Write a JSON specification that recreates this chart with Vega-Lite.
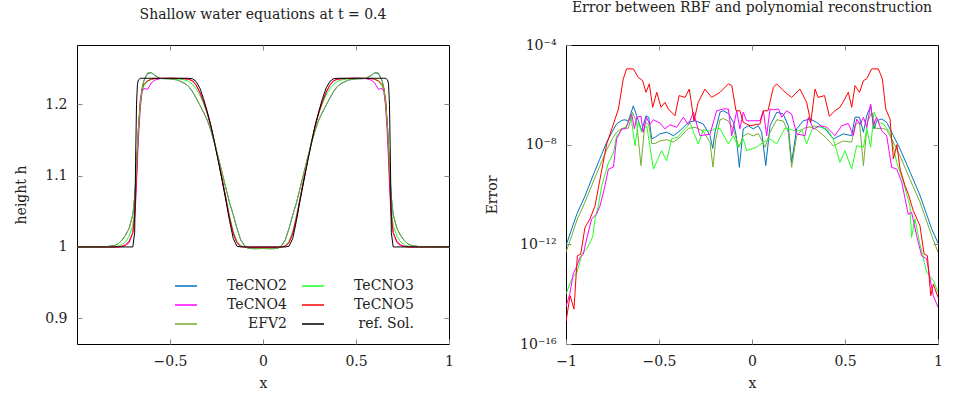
{
"$schema": "https://vega.github.io/schema/vega-lite/v6.json",
"padding": {"left": 14, "top": 0, "right": 0, "bottom": 0},
"spacing": 31,
"config": {
  "font": "DejaVu Serif",
  "view": {"stroke": "#000", "strokeWidth": 1},
  "axis": {"domain": false, "grid": false, "labelFlush": false, "tickSize": -5, "tickColor": "#888", "labelFont": "DejaVu Serif", "labelFontSize": 14, "labelColor": "#222", "titleFont": "DejaVu Serif", "titleFontSize": 14, "titleFontWeight": "normal", "titleColor": "#222", "labelPadding": 15},
  "title": {"font": "DejaVu Serif", "fontSize": 14, "fontWeight": "normal", "color": "#222", "offset": 23},
  "legend": {"labelFont": "DejaVu Serif", "labelFontSize": 14, "labelColor": "#222"}
},
"resolve": {"scale": {"color": "independent"}},
"hconcat": [
{
  "title": "Shallow water equations at t = 0.4",
  "width": 372, "height": 299,
  "data": {"values": [
    {"x":-1.0,"ref":1,"TeCNO5":1,"TeCNO4":1,"TeCNO3":1,"TeCNO2":1,"EFV2":1},
    {"x":-0.9,"ref":1,"TeCNO5":1,"TeCNO4":1,"TeCNO3":1,"TeCNO2":1,"EFV2":1},
    {"x":-0.84,"ref":1,"TeCNO5":1,"TeCNO4":1,"TeCNO3":1,"TeCNO2":1.0005,"EFV2":1.0005},
    {"x":-0.8,"ref":1,"TeCNO5":1,"TeCNO4":1,"TeCNO3":1.0005,"TeCNO2":1.002,"EFV2":1.002},
    {"x":-0.78,"ref":1,"TeCNO5":1,"TeCNO4":1.0003,"TeCNO3":1.001,"TeCNO2":1.004,"EFV2":1.004},
    {"x":-0.76,"ref":1,"TeCNO5":1.0005,"TeCNO4":1.001,"TeCNO3":1.003,"TeCNO2":1.009,"EFV2":1.009},
    {"x":-0.74,"ref":1,"TeCNO5":1.002,"TeCNO4":1.003,"TeCNO3":1.007,"TeCNO2":1.016,"EFV2":1.016},
    {"x":-0.72,"ref":1,"TeCNO5":1.006,"TeCNO4":1.008,"TeCNO3":1.015,"TeCNO2":1.026,"EFV2":1.026},
    {"x":-0.70,"ref":1,"TeCNO5":1.02,"TeCNO4":1.02,"TeCNO3":1.03,"TeCNO2":1.045,"EFV2":1.045},
    {"x":-0.69,"ref":1.02,"TeCNO5":1.045,"TeCNO4":1.04,"TeCNO3":1.05,"TeCNO2":1.07,"EFV2":1.07},
    {"x":-0.685,"ref":1.12,"TeCNO5":1.07,"TeCNO4":1.06,"TeCNO3":1.07,"TeCNO2":1.09,"EFV2":1.09},
    {"x":-0.68,"ref":1.2,"TeCNO5":1.10,"TeCNO4":1.09,"TeCNO3":1.10,"TeCNO2":1.115,"EFV2":1.115},
    {"x":-0.675,"ref":1.228,"TeCNO5":1.135,"TeCNO4":1.12,"TeCNO3":1.13,"TeCNO2":1.14,"EFV2":1.14},
    {"x":-0.67,"ref":1.234,"TeCNO5":1.165,"TeCNO4":1.15,"TeCNO3":1.16,"TeCNO2":1.165,"EFV2":1.165},
    {"x":-0.66,"ref":1.2362,"TeCNO5":1.205,"TeCNO4":1.195,"TeCNO3":1.20,"TeCNO2":1.20,"EFV2":1.20},
    {"x":-0.65,"ref":1.2364,"TeCNO5":1.222,"TeCNO4":1.218,"TeCNO3":1.218,"TeCNO2":1.222,"EFV2":1.222},
    {"x":-0.64,"ref":1.2364,"TeCNO5":1.228,"TeCNO4":1.222,"TeCNO3":1.226,"TeCNO2":1.233,"EFV2":1.234},
    {"x":-0.62,"ref":1.2364,"TeCNO5":1.233,"TeCNO4":1.221,"TeCNO3":1.232,"TeCNO2":1.243,"EFV2":1.244},
    {"x":-0.60,"ref":1.2364,"TeCNO5":1.235,"TeCNO4":1.23,"TeCNO3":1.235,"TeCNO2":1.244,"EFV2":1.2445},
    {"x":-0.58,"ref":1.2364,"TeCNO5":1.236,"TeCNO4":1.234,"TeCNO3":1.236,"TeCNO2":1.240,"EFV2":1.240},
    {"x":-0.55,"ref":1.2364,"TeCNO5":1.2364,"TeCNO4":1.236,"TeCNO3":1.236,"TeCNO2":1.236,"EFV2":1.236},
    {"x":-0.50,"ref":1.2364,"TeCNO5":1.2364,"TeCNO4":1.2364,"TeCNO3":1.2362,"TeCNO2":1.2355,"EFV2":1.2355},
    {"x":-0.46,"ref":1.2364,"TeCNO5":1.2362,"TeCNO4":1.2362,"TeCNO3":1.2355,"TeCNO2":1.234,"EFV2":1.234},
    {"x":-0.42,"ref":1.2364,"TeCNO5":1.2358,"TeCNO4":1.2356,"TeCNO3":1.234,"TeCNO2":1.229,"EFV2":1.229},
    {"x":-0.40,"ref":1.2363,"TeCNO5":1.235,"TeCNO4":1.235,"TeCNO3":1.232,"TeCNO2":1.225,"EFV2":1.225},
    {"x":-0.38,"ref":1.2358,"TeCNO5":1.233,"TeCNO4":1.233,"TeCNO3":1.228,"TeCNO2":1.218,"EFV2":1.218},
    {"x":-0.36,"ref":1.232,"TeCNO5":1.227,"TeCNO4":1.227,"TeCNO3":1.222,"TeCNO2":1.209,"EFV2":1.209},
    {"x":-0.34,"ref":1.223,"TeCNO5":1.217,"TeCNO4":1.217,"TeCNO3":1.213,"TeCNO2":1.199,"EFV2":1.199},
    {"x":-0.32,"ref":1.208,"TeCNO5":1.204,"TeCNO4":1.204,"TeCNO3":1.201,"TeCNO2":1.189,"EFV2":1.189},
    {"x":-0.30,"ref":1.190,"TeCNO5":1.188,"TeCNO4":1.188,"TeCNO3":1.187,"TeCNO2":1.178,"EFV2":1.178},
    {"x":-0.28,"ref":1.170,"TeCNO5":1.169,"TeCNO4":1.169,"TeCNO3":1.169,"TeCNO2":1.163,"EFV2":1.163},
    {"x":-0.26,"ref":1.145,"TeCNO5":1.146,"TeCNO4":1.146,"TeCNO3":1.147,"TeCNO2":1.145,"EFV2":1.145},
    {"x":-0.24,"ref":1.120,"TeCNO5":1.121,"TeCNO4":1.121,"TeCNO3":1.123,"TeCNO2":1.125,"EFV2":1.125},
    {"x":-0.22,"ref":1.093,"TeCNO5":1.095,"TeCNO4":1.095,"TeCNO3":1.097,"TeCNO2":1.104,"EFV2":1.104},
    {"x":-0.20,"ref":1.066,"TeCNO5":1.068,"TeCNO4":1.068,"TeCNO3":1.070,"TeCNO2":1.083,"EFV2":1.083},
    {"x":-0.18,"ref":1.037,"TeCNO5":1.041,"TeCNO4":1.041,"TeCNO3":1.044,"TeCNO2":1.062,"EFV2":1.062},
    {"x":-0.16,"ref":1.012,"TeCNO5":1.019,"TeCNO4":1.019,"TeCNO3":1.022,"TeCNO2":1.045,"EFV2":1.045},
    {"x":-0.14,"ref":1.001,"TeCNO5":1.006,"TeCNO4":1.006,"TeCNO3":1.008,"TeCNO2":1.026,"EFV2":1.026},
    {"x":-0.12,"ref":1.0,"TeCNO5":1.001,"TeCNO4":1.001,"TeCNO3":1.002,"TeCNO2":1.010,"EFV2":1.010},
    {"x":-0.10,"ref":1.0,"TeCNO5":1.0,"TeCNO4":1.0,"TeCNO3":1.0,"TeCNO2":1.002,"EFV2":1.002},
    {"x":-0.08,"ref":1.0,"TeCNO5":0.9995,"TeCNO4":0.9995,"TeCNO3":0.9992,"TeCNO2":0.998,"EFV2":0.998},
    {"x":-0.05,"ref":1.0,"TeCNO5":0.9995,"TeCNO4":0.9995,"TeCNO3":0.999,"TeCNO2":0.9975,"EFV2":0.9975},
    {"x":0,"ref":1.0,"TeCNO5":0.9995,"TeCNO4":0.9995,"TeCNO3":0.999,"TeCNO2":0.9978,"EFV2":0.9978},
    {"x":0.05,"ref":1.0,"TeCNO5":0.9995,"TeCNO4":0.9995,"TeCNO3":0.999,"TeCNO2":0.9975,"EFV2":0.9975},
    {"x":0.08,"ref":1.0,"TeCNO5":0.9995,"TeCNO4":0.9995,"TeCNO3":0.9992,"TeCNO2":0.998,"EFV2":0.998},
    {"x":0.10,"ref":1.0,"TeCNO5":1.0,"TeCNO4":1.0,"TeCNO3":1.0,"TeCNO2":1.002,"EFV2":1.002},
    {"x":0.12,"ref":1.0,"TeCNO5":1.001,"TeCNO4":1.001,"TeCNO3":1.002,"TeCNO2":1.010,"EFV2":1.010},
    {"x":0.14,"ref":1.001,"TeCNO5":1.006,"TeCNO4":1.006,"TeCNO3":1.008,"TeCNO2":1.026,"EFV2":1.026},
    {"x":0.16,"ref":1.012,"TeCNO5":1.019,"TeCNO4":1.019,"TeCNO3":1.022,"TeCNO2":1.045,"EFV2":1.045},
    {"x":0.18,"ref":1.037,"TeCNO5":1.041,"TeCNO4":1.041,"TeCNO3":1.044,"TeCNO2":1.062,"EFV2":1.062},
    {"x":0.20,"ref":1.066,"TeCNO5":1.068,"TeCNO4":1.068,"TeCNO3":1.070,"TeCNO2":1.083,"EFV2":1.083},
    {"x":0.22,"ref":1.093,"TeCNO5":1.095,"TeCNO4":1.095,"TeCNO3":1.097,"TeCNO2":1.104,"EFV2":1.104},
    {"x":0.24,"ref":1.120,"TeCNO5":1.121,"TeCNO4":1.121,"TeCNO3":1.123,"TeCNO2":1.125,"EFV2":1.125},
    {"x":0.26,"ref":1.145,"TeCNO5":1.146,"TeCNO4":1.146,"TeCNO3":1.147,"TeCNO2":1.145,"EFV2":1.145},
    {"x":0.28,"ref":1.170,"TeCNO5":1.169,"TeCNO4":1.169,"TeCNO3":1.169,"TeCNO2":1.163,"EFV2":1.163},
    {"x":0.30,"ref":1.190,"TeCNO5":1.188,"TeCNO4":1.188,"TeCNO3":1.187,"TeCNO2":1.178,"EFV2":1.178},
    {"x":0.32,"ref":1.208,"TeCNO5":1.204,"TeCNO4":1.204,"TeCNO3":1.201,"TeCNO2":1.189,"EFV2":1.189},
    {"x":0.34,"ref":1.223,"TeCNO5":1.217,"TeCNO4":1.217,"TeCNO3":1.213,"TeCNO2":1.199,"EFV2":1.199},
    {"x":0.36,"ref":1.232,"TeCNO5":1.227,"TeCNO4":1.227,"TeCNO3":1.222,"TeCNO2":1.209,"EFV2":1.209},
    {"x":0.38,"ref":1.2358,"TeCNO5":1.233,"TeCNO4":1.233,"TeCNO3":1.228,"TeCNO2":1.218,"EFV2":1.218},
    {"x":0.40,"ref":1.2363,"TeCNO5":1.235,"TeCNO4":1.235,"TeCNO3":1.232,"TeCNO2":1.225,"EFV2":1.225},
    {"x":0.42,"ref":1.2364,"TeCNO5":1.2358,"TeCNO4":1.2356,"TeCNO3":1.234,"TeCNO2":1.229,"EFV2":1.229},
    {"x":0.46,"ref":1.2364,"TeCNO5":1.2362,"TeCNO4":1.2362,"TeCNO3":1.2355,"TeCNO2":1.234,"EFV2":1.234},
    {"x":0.50,"ref":1.2364,"TeCNO5":1.2364,"TeCNO4":1.2364,"TeCNO3":1.2362,"TeCNO2":1.2355,"EFV2":1.2355},
    {"x":0.55,"ref":1.2364,"TeCNO5":1.2364,"TeCNO4":1.236,"TeCNO3":1.236,"TeCNO2":1.236,"EFV2":1.236},
    {"x":0.58,"ref":1.2364,"TeCNO5":1.236,"TeCNO4":1.234,"TeCNO3":1.236,"TeCNO2":1.240,"EFV2":1.240},
    {"x":0.60,"ref":1.2364,"TeCNO5":1.235,"TeCNO4":1.23,"TeCNO3":1.235,"TeCNO2":1.244,"EFV2":1.2445},
    {"x":0.62,"ref":1.2364,"TeCNO5":1.233,"TeCNO4":1.221,"TeCNO3":1.232,"TeCNO2":1.243,"EFV2":1.244},
    {"x":0.64,"ref":1.2364,"TeCNO5":1.228,"TeCNO4":1.222,"TeCNO3":1.226,"TeCNO2":1.233,"EFV2":1.234},
    {"x":0.65,"ref":1.2364,"TeCNO5":1.222,"TeCNO4":1.218,"TeCNO3":1.218,"TeCNO2":1.222,"EFV2":1.222},
    {"x":0.66,"ref":1.2362,"TeCNO5":1.205,"TeCNO4":1.195,"TeCNO3":1.20,"TeCNO2":1.20,"EFV2":1.20},
    {"x":0.67,"ref":1.234,"TeCNO5":1.165,"TeCNO4":1.15,"TeCNO3":1.16,"TeCNO2":1.165,"EFV2":1.165},
    {"x":0.675,"ref":1.228,"TeCNO5":1.135,"TeCNO4":1.12,"TeCNO3":1.13,"TeCNO2":1.14,"EFV2":1.14},
    {"x":0.68,"ref":1.2,"TeCNO5":1.10,"TeCNO4":1.09,"TeCNO3":1.10,"TeCNO2":1.115,"EFV2":1.115},
    {"x":0.685,"ref":1.12,"TeCNO5":1.07,"TeCNO4":1.06,"TeCNO3":1.07,"TeCNO2":1.09,"EFV2":1.09},
    {"x":0.69,"ref":1.02,"TeCNO5":1.045,"TeCNO4":1.04,"TeCNO3":1.05,"TeCNO2":1.07,"EFV2":1.07},
    {"x":0.70,"ref":1,"TeCNO5":1.02,"TeCNO4":1.02,"TeCNO3":1.03,"TeCNO2":1.045,"EFV2":1.045},
    {"x":0.72,"ref":1,"TeCNO5":1.006,"TeCNO4":1.008,"TeCNO3":1.015,"TeCNO2":1.026,"EFV2":1.026},
    {"x":0.74,"ref":1,"TeCNO5":1.002,"TeCNO4":1.003,"TeCNO3":1.007,"TeCNO2":1.016,"EFV2":1.016},
    {"x":0.76,"ref":1,"TeCNO5":1.0005,"TeCNO4":1.001,"TeCNO3":1.003,"TeCNO2":1.009,"EFV2":1.009},
    {"x":0.78,"ref":1,"TeCNO5":1,"TeCNO4":1.0003,"TeCNO3":1.001,"TeCNO2":1.004,"EFV2":1.004},
    {"x":0.8,"ref":1,"TeCNO5":1,"TeCNO4":1,"TeCNO3":1.0005,"TeCNO2":1.002,"EFV2":1.002},
    {"x":0.84,"ref":1,"TeCNO5":1,"TeCNO4":1,"TeCNO3":1,"TeCNO2":1.0005,"EFV2":1.0005},
    {"x":0.9,"ref":1,"TeCNO5":1,"TeCNO4":1,"TeCNO3":1,"TeCNO2":1,"EFV2":1},
    {"x":1.0,"ref":1,"TeCNO5":1,"TeCNO4":1,"TeCNO3":1,"TeCNO2":1,"EFV2":1}
  ]},
  "transform": [{"fold": ["TeCNO2","TeCNO3","TeCNO4","TeCNO5","EFV2","ref"], "as": ["s","h"]}],
  "layer": [
    {
      "mark": {"type": "line", "strokeWidth": 1, "clip": true},
      "encoding": {
        "x": {"field": "x", "type": "quantitative", "scale": {"domain": [-1, 1], "nice": false}, "axis": {"values": [-0.5, 0, 0.5, 1], "format": "~g", "title": "x", "titlePadding": 8}},
        "y": {"field": "h", "type": "quantitative", "scale": {"domain": [0.864, 1.283], "nice": false, "zero": false}, "axis": {"values": [0.9, 1, 1.1, 1.2], "format": "~g", "title": "height h", "titlePadding": 16}},
        "color": {"field": "s", "type": "nominal",
          "scale": {"domain": ["TeCNO2","TeCNO4","EFV2","TeCNO3","TeCNO5","ref"], "range": ["#0072BD","#FF00FF","#77AC30","#22FF22","#FF0000","#000000"]},
          "legend": {"orient": "none", "legendX": 97, "legendY": 229, "columns": 2, "title": null, "padding": 0, "symbolType": "stroke", "symbolSize": 484, "symbolStrokeWidth": 1.5, "labelAlign": "right", "labelOffset": 89, "columnPadding": 12, "rowPadding": -7, "labelExpr": "datum.label == 'ref' ? 'ref. Sol.' : datum.label"}
        }
      }
    },
    {
      "mark": {"type": "line", "opacity": 0},
      "encoding": {
        "x": {"field": "x", "type": "quantitative", "scale": {"domain": [-1, 1], "nice": false}, "axis": {"orient": "top", "values": [-0.5, 0, 0.5], "labels": false, "title": null}},
        "y": {"field": "h", "type": "quantitative", "scale": {"domain": [0.864, 1.283], "nice": false, "zero": false}, "axis": {"orient": "right", "values": [0.9, 1, 1.1, 1.2], "labels": false, "title": null}},
        "detail": {"field": "s"}
      }
    }
  ],
  "resolve": {"axis": {"x": "independent", "y": "independent"}}
},
{
  "title": "Error between RBF and polynomial reconstruction",
  "width": 372, "height": 299,
  "data": {"values": [
    {"s":"TeCNO2","x":-1.0,"e":8.9e-13},{"s":"TeCNO2","x":-0.969,"e":4.2e-12},{"s":"TeCNO2","x":-0.94,"e":1.78e-11},{"s":"TeCNO2","x":-0.9,"e":7.9e-11},{"s":"TeCNO2","x":-0.862,"e":4.2e-10},{"s":"TeCNO2","x":-0.82,"e":2.5e-9},{"s":"TeCNO2","x":-0.781,"e":1.26e-8},{"s":"TeCNO2","x":-0.75,"e":3.5e-8},{"s":"TeCNO2","x":-0.728,"e":6.8e-8},{"s":"TeCNO2","x":-0.7,"e":9.5e-8},{"s":"TeCNO2","x":-0.683,"e":1e-7},{"s":"TeCNO2","x":-0.665,"e":8.9e-8},{"s":"TeCNO2","x":-0.638,"e":3.6e-7},{"s":"TeCNO2","x":-0.62,"e":1.45e-7},{"s":"TeCNO2","x":-0.593,"e":3.6e-8},{"s":"TeCNO2","x":-0.57,"e":1.45e-7},{"s":"TeCNO2","x":-0.555,"e":1.26e-7},{"s":"TeCNO2","x":-0.539,"e":1.7e-8},{"s":"TeCNO2","x":-0.52,"e":2.0e-8},{"s":"TeCNO2","x":-0.495,"e":2.7e-8},{"s":"TeCNO2","x":-0.459,"e":3.16e-8},{"s":"TeCNO2","x":-0.423,"e":2.3e-8},{"s":"TeCNO2","x":-0.387,"e":3.6e-8},{"s":"TeCNO2","x":-0.342,"e":7.9e-8},{"s":"TeCNO2","x":-0.306,"e":9.1e-8},{"s":"TeCNO2","x":-0.262,"e":6.8e-8},{"s":"TeCNO2","x":-0.226,"e":2.3e-8},{"s":"TeCNO2","x":-0.211,"e":7.1e-9},{"s":"TeCNO2","x":-0.199,"e":3.16e-8},{"s":"TeCNO2","x":-0.172,"e":2.0e-7},{"s":"TeCNO2","x":-0.154,"e":2.3e-7},{"s":"TeCNO2","x":-0.127,"e":1.78e-7},{"s":"TeCNO2","x":-0.1,"e":7.9e-8},{"s":"TeCNO2","x":-0.085,"e":2.3e-8},{"s":"TeCNO2","x":-0.068,"e":1.23e-9},{"s":"TeCNO2","x":-0.047,"e":4.3e-8},{"s":"TeCNO2","x":-0.02,"e":5.75e-8},{"s":"TeCNO2","x":0.007,"e":4.3e-8},{"s":"TeCNO2","x":0.034,"e":5.75e-8},{"s":"TeCNO2","x":0.052,"e":3.16e-8},{"s":"TeCNO2","x":0.074,"e":1.45e-9},{"s":"TeCNO2","x":0.097,"e":5.75e-8},{"s":"TeCNO2","x":0.133,"e":2.0e-7},{"s":"TeCNO2","x":0.168,"e":1.7e-7},{"s":"TeCNO2","x":0.195,"e":5.75e-8},{"s":"TeCNO2","x":0.213,"e":1.95e-9},{"s":"TeCNO2","x":0.24,"e":4.3e-8},{"s":"TeCNO2","x":0.276,"e":9.1e-8},{"s":"TeCNO2","x":0.312,"e":1.07e-7},{"s":"TeCNO2","x":0.348,"e":7.9e-8},{"s":"TeCNO2","x":0.402,"e":3.6e-8},{"s":"TeCNO2","x":0.437,"e":1.7e-8},{"s":"TeCNO2","x":0.491,"e":2.7e-8},{"s":"TeCNO2","x":0.536,"e":2.3e-8},{"s":"TeCNO2","x":0.554,"e":1.26e-7},{"s":"TeCNO2","x":0.578,"e":1.26e-7},{"s":"TeCNO2","x":0.599,"e":3.16e-8},{"s":"TeCNO2","x":0.617,"e":1.45e-7},{"s":"TeCNO2","x":0.638,"e":3.6e-7},{"s":"TeCNO2","x":0.656,"e":4.3e-8},{"s":"TeCNO2","x":0.67,"e":9.1e-8},{"s":"TeCNO2","x":0.697,"e":1.07e-7},{"s":"TeCNO2","x":0.724,"e":7.9e-8},{"s":"TeCNO2","x":0.76,"e":2.3e-8},{"s":"TeCNO2","x":0.796,"e":6.8e-9},{"s":"TeCNO2","x":0.85,"e":7.9e-10},{"s":"TeCNO2","x":0.903,"e":9.3e-11},{"s":"TeCNO2","x":0.966,"e":4.2e-12},{"s":"TeCNO2","x":1.0,"e":1.12e-12},
    {"s":"EFV2","x":-1.0,"e":4.8e-13},{"s":"EFV2","x":-0.969,"e":2.24e-12},{"s":"EFV2","x":-0.94,"e":1e-11},{"s":"EFV2","x":-0.9,"e":4.5e-11},{"s":"EFV2","x":-0.862,"e":2.24e-10},{"s":"EFV2","x":-0.82,"e":1.3e-9},{"s":"EFV2","x":-0.781,"e":6.3e-9},{"s":"EFV2","x":-0.75,"e":1.78e-8},{"s":"EFV2","x":-0.728,"e":3.16e-8},{"s":"EFV2","x":-0.7,"e":4.5e-8},{"s":"EFV2","x":-0.683,"e":4.7e-8},{"s":"EFV2","x":-0.665,"e":4.5e-8},{"s":"EFV2","x":-0.643,"e":2.0e-7},{"s":"EFV2","x":-0.62,"e":7.9e-8},{"s":"EFV2","x":-0.597,"e":1.45e-9},{"s":"EFV2","x":-0.575,"e":7.9e-8},{"s":"EFV2","x":-0.555,"e":6.3e-8},{"s":"EFV2","x":-0.539,"e":1.12e-8},{"s":"EFV2","x":-0.52,"e":1.12e-8},{"s":"EFV2","x":-0.495,"e":1.41e-8},{"s":"EFV2","x":-0.459,"e":1.58e-8},{"s":"EFV2","x":-0.423,"e":1.26e-8},{"s":"EFV2","x":-0.387,"e":2.0e-8},{"s":"EFV2","x":-0.342,"e":4.5e-8},{"s":"EFV2","x":-0.306,"e":5.0e-8},{"s":"EFV2","x":-0.262,"e":3.5e-8},{"s":"EFV2","x":-0.226,"e":1.26e-8},{"s":"EFV2","x":-0.21,"e":1.26e-9},{"s":"EFV2","x":-0.195,"e":1.58e-8},{"s":"EFV2","x":-0.172,"e":1e-7},{"s":"EFV2","x":-0.154,"e":1.12e-7},{"s":"EFV2","x":-0.127,"e":8.9e-8},{"s":"EFV2","x":-0.1,"e":4.0e-8},{"s":"EFV2","x":-0.07,"e":7.9e-9},{"s":"EFV2","x":-0.047,"e":2.24e-8},{"s":"EFV2","x":-0.02,"e":2.8e-8},{"s":"EFV2","x":0.007,"e":2.24e-8},{"s":"EFV2","x":0.034,"e":2.8e-8},{"s":"EFV2","x":0.07,"e":7.9e-9},{"s":"EFV2","x":0.097,"e":3.16e-8},{"s":"EFV2","x":0.133,"e":1e-7},{"s":"EFV2","x":0.168,"e":8.9e-8},{"s":"EFV2","x":0.195,"e":3.16e-8},{"s":"EFV2","x":0.213,"e":1.23e-9},{"s":"EFV2","x":0.24,"e":2.24e-8},{"s":"EFV2","x":0.276,"e":4.5e-8},{"s":"EFV2","x":0.312,"e":5.2e-8},{"s":"EFV2","x":0.348,"e":4.0e-8},{"s":"EFV2","x":0.402,"e":1.78e-8},{"s":"EFV2","x":0.437,"e":8.9e-9},{"s":"EFV2","x":0.491,"e":1.41e-8},{"s":"EFV2","x":0.536,"e":1.26e-8},{"s":"EFV2","x":0.554,"e":6.3e-8},{"s":"EFV2","x":0.578,"e":7.9e-8},{"s":"EFV2","x":0.599,"e":1.45e-9},{"s":"EFV2","x":0.62,"e":7.9e-8},{"s":"EFV2","x":0.643,"e":2.0e-7},{"s":"EFV2","x":0.665,"e":4.5e-8},{"s":"EFV2","x":0.7,"e":4.5e-8},{"s":"EFV2","x":0.724,"e":4.0e-8},{"s":"EFV2","x":0.76,"e":1.26e-8},{"s":"EFV2","x":0.796,"e":3.5e-9},{"s":"EFV2","x":0.85,"e":4.0e-10},{"s":"EFV2","x":0.903,"e":5.0e-11},{"s":"EFV2","x":0.966,"e":2.24e-12},{"s":"EFV2","x":1.0,"e":4.8e-13},
    {"s":"TeCNO3","x":-1.0,"e":1e-14},{"s":"TeCNO3","x":-0.97,"e":4.0e-14},{"s":"TeCNO3","x":-0.94,"e":7.9e-14},{"s":"TeCNO3","x":-0.915,"e":4.0e-13},{"s":"TeCNO3","x":-0.89,"e":6.3e-13},{"s":"TeCNO3","x":-0.857,"e":1.9e-12},{"s":"TeCNO3","x":-0.844,"e":1.05e-11},{"s":"TeCNO3","x":-0.826,"e":3.5e-11},{"s":"TeCNO3","x":-0.808,"e":2.24e-10},{"s":"TeCNO3","x":-0.772,"e":1.86e-9},{"s":"TeCNO3","x":-0.745,"e":4.7e-9},{"s":"TeCNO3","x":-0.728,"e":2.2e-8},{"s":"TeCNO3","x":-0.7,"e":4.0e-8},{"s":"TeCNO3","x":-0.675,"e":5.5e-8},{"s":"TeCNO3","x":-0.652,"e":1.58e-7},{"s":"TeCNO3","x":-0.629,"e":9.1e-9},{"s":"TeCNO3","x":-0.611,"e":7.9e-8},{"s":"TeCNO3","x":-0.593,"e":3.16e-8},{"s":"TeCNO3","x":-0.566,"e":5.75e-8},{"s":"TeCNO3","x":-0.53,"e":1.05e-9},{"s":"TeCNO3","x":-0.486,"e":5.75e-9},{"s":"TeCNO3","x":-0.459,"e":2.24e-9},{"s":"TeCNO3","x":-0.432,"e":1.7e-8},{"s":"TeCNO3","x":-0.4,"e":2.0e-8},{"s":"TeCNO3","x":-0.365,"e":4.0e-8},{"s":"TeCNO3","x":-0.333,"e":7.4e-8},{"s":"TeCNO3","x":-0.289,"e":1.07e-8},{"s":"TeCNO3","x":-0.262,"e":4.0e-8},{"s":"TeCNO3","x":-0.226,"e":3.5e-8},{"s":"TeCNO3","x":-0.19,"e":4.7e-8},{"s":"TeCNO3","x":-0.172,"e":4.3e-8},{"s":"TeCNO3","x":-0.127,"e":1.07e-8},{"s":"TeCNO3","x":-0.1,"e":2.3e-8},{"s":"TeCNO3","x":-0.074,"e":7.9e-9},{"s":"TeCNO3","x":-0.047,"e":1.7e-8},{"s":"TeCNO3","x":-0.029,"e":5.75e-9},{"s":"TeCNO3","x":0.025,"e":7.9e-9},{"s":"TeCNO3","x":0.061,"e":1.26e-8},{"s":"TeCNO3","x":0.097,"e":1.7e-8},{"s":"TeCNO3","x":0.133,"e":1.07e-8},{"s":"TeCNO3","x":0.178,"e":4.7e-8},{"s":"TeCNO3","x":0.24,"e":3.5e-8},{"s":"TeCNO3","x":0.267,"e":4.0e-8},{"s":"TeCNO3","x":0.294,"e":1.07e-8},{"s":"TeCNO3","x":0.33,"e":5.75e-8},{"s":"TeCNO3","x":0.366,"e":5.0e-8},{"s":"TeCNO3","x":0.402,"e":4.3e-8},{"s":"TeCNO3","x":0.437,"e":1.7e-8},{"s":"TeCNO3","x":0.473,"e":1.95e-9},{"s":"TeCNO3","x":0.5,"e":5.75e-9},{"s":"TeCNO3","x":0.536,"e":1.05e-9},{"s":"TeCNO3","x":0.563,"e":9.1e-9},{"s":"TeCNO3","x":0.599,"e":7.9e-9},{"s":"TeCNO3","x":0.617,"e":4.3e-8},{"s":"TeCNO3","x":0.638,"e":7.9e-9},{"s":"TeCNO3","x":0.656,"e":2.0e-7},{"s":"TeCNO3","x":0.679,"e":7.9e-8},{"s":"TeCNO3","x":0.706,"e":6.8e-8},{"s":"TeCNO3","x":0.742,"e":3.16e-8},{"s":"TeCNO3","x":0.778,"e":1.95e-9},{"s":"TeCNO3","x":0.814,"e":3.16e-10},{"s":"TeCNO3","x":0.849,"e":3.5e-11},{"s":"TeCNO3","x":0.858,"e":1.9e-12},{"s":"TeCNO3","x":0.876,"e":1.05e-11},{"s":"TeCNO3","x":0.9,"e":1.26e-12},{"s":"TeCNO3","x":0.939,"e":7.6e-14},{"s":"TeCNO3","x":0.975,"e":3.5e-14},{"s":"TeCNO3","x":1.0,"e":1.2e-14},
    {"s":"TeCNO4","x":-1.0,"e":3.16e-15},{"s":"TeCNO4","x":-0.98,"e":1e-14},{"s":"TeCNO4","x":-0.961,"e":6.5e-14},{"s":"TeCNO4","x":-0.943,"e":1.26e-13},{"s":"TeCNO4","x":-0.925,"e":3.0e-13},{"s":"TeCNO4","x":-0.907,"e":4.0e-13},{"s":"TeCNO4","x":-0.889,"e":1.66e-12},{"s":"TeCNO4","x":-0.862,"e":1.05e-11},{"s":"TeCNO4","x":-0.835,"e":1.66e-11},{"s":"TeCNO4","x":-0.817,"e":3.5e-11},{"s":"TeCNO4","x":-0.795,"e":1.58e-10},{"s":"TeCNO4","x":-0.772,"e":1.05e-9},{"s":"TeCNO4","x":-0.745,"e":1.26e-9},{"s":"TeCNO4","x":-0.728,"e":1.7e-8},{"s":"TeCNO4","x":-0.7,"e":4.3e-8},{"s":"TeCNO4","x":-0.68,"e":4.3e-8},{"s":"TeCNO4","x":-0.647,"e":1.7e-7},{"s":"TeCNO4","x":-0.632,"e":4.3e-8},{"s":"TeCNO4","x":-0.62,"e":1.26e-7},{"s":"TeCNO4","x":-0.597,"e":1.38e-7},{"s":"TeCNO4","x":-0.585,"e":3.16e-8},{"s":"TeCNO4","x":-0.567,"e":1.26e-7},{"s":"TeCNO4","x":-0.55,"e":6.3e-8},{"s":"TeCNO4","x":-0.53,"e":1e-7},{"s":"TeCNO4","x":-0.495,"e":7.4e-8},{"s":"TeCNO4","x":-0.468,"e":4.3e-8},{"s":"TeCNO4","x":-0.441,"e":6.3e-8},{"s":"TeCNO4","x":-0.405,"e":5.0e-8},{"s":"TeCNO4","x":-0.369,"e":1.26e-7},{"s":"TeCNO4","x":-0.342,"e":6.3e-8},{"s":"TeCNO4","x":-0.315,"e":2.0e-7},{"s":"TeCNO4","x":-0.28,"e":2.3e-8},{"s":"TeCNO4","x":-0.226,"e":2.6e-8},{"s":"TeCNO4","x":-0.19,"e":2.3e-7},{"s":"TeCNO4","x":-0.154,"e":2.7e-7},{"s":"TeCNO4","x":-0.127,"e":2.7e-7},{"s":"TeCNO4","x":-0.109,"e":2.3e-8},{"s":"TeCNO4","x":-0.082,"e":2.3e-7},{"s":"TeCNO4","x":-0.065,"e":4.3e-8},{"s":"TeCNO4","x":-0.047,"e":2.0e-7},{"s":"TeCNO4","x":-0.029,"e":9.1e-8},{"s":"TeCNO4","x":0.043,"e":9.1e-8},{"s":"TeCNO4","x":0.061,"e":2.3e-7},{"s":"TeCNO4","x":0.079,"e":2.3e-8},{"s":"TeCNO4","x":0.097,"e":2.7e-7},{"s":"TeCNO4","x":0.115,"e":2.5e-7},{"s":"TeCNO4","x":0.142,"e":2.7e-7},{"s":"TeCNO4","x":0.16,"e":1.26e-7},{"s":"TeCNO4","x":0.186,"e":2.3e-7},{"s":"TeCNO4","x":0.213,"e":1.7e-7},{"s":"TeCNO4","x":0.24,"e":2.7e-8},{"s":"TeCNO4","x":0.285,"e":2.3e-8},{"s":"TeCNO4","x":0.303,"e":1.26e-7},{"s":"TeCNO4","x":0.33,"e":4.3e-8},{"s":"TeCNO4","x":0.366,"e":5.75e-8},{"s":"TeCNO4","x":0.402,"e":5.0e-8},{"s":"TeCNO4","x":0.446,"e":2.3e-8},{"s":"TeCNO4","x":0.482,"e":5.75e-8},{"s":"TeCNO4","x":0.518,"e":7.1e-8},{"s":"TeCNO4","x":0.545,"e":2.3e-8},{"s":"TeCNO4","x":0.563,"e":1.07e-7},{"s":"TeCNO4","x":0.581,"e":6.3e-8},{"s":"TeCNO4","x":0.599,"e":1.26e-7},{"s":"TeCNO4","x":0.617,"e":5.0e-8},{"s":"TeCNO4","x":0.638,"e":4.3e-7},{"s":"TeCNO4","x":0.652,"e":6.3e-8},{"s":"TeCNO4","x":0.67,"e":1.26e-7},{"s":"TeCNO4","x":0.697,"e":3.6e-8},{"s":"TeCNO4","x":0.724,"e":2.3e-8},{"s":"TeCNO4","x":0.751,"e":1.23e-9},{"s":"TeCNO4","x":0.778,"e":1.05e-9},{"s":"TeCNO4","x":0.805,"e":3.16e-10},{"s":"TeCNO4","x":0.84,"e":1.58e-11},{"s":"TeCNO4","x":0.858,"e":1.95e-11},{"s":"TeCNO4","x":0.885,"e":2.24e-12},{"s":"TeCNO4","x":0.912,"e":3.5e-13},{"s":"TeCNO4","x":0.939,"e":2.6e-13},{"s":"TeCNO4","x":0.957,"e":4.2e-14},{"s":"TeCNO4","x":0.975,"e":8.7e-15},{"s":"TeCNO4","x":1.0,"e":2.95e-15},
    {"s":"TeCNO5","x":-1.0,"e":7.9e-16},{"s":"TeCNO5","x":-0.978,"e":8.7e-15},{"s":"TeCNO5","x":-0.957,"e":2.5e-15},{"s":"TeCNO5","x":-0.939,"e":3.5e-13},{"s":"TeCNO5","x":-0.921,"e":4.0e-13},{"s":"TeCNO5","x":-0.898,"e":4.8e-12},{"s":"TeCNO5","x":-0.871,"e":1.05e-11},{"s":"TeCNO5","x":-0.844,"e":3.5e-11},{"s":"TeCNO5","x":-0.817,"e":4.2e-10},{"s":"TeCNO5","x":-0.781,"e":1.07e-8},{"s":"TeCNO5","x":-0.754,"e":4.3e-8},{"s":"TeCNO5","x":-0.736,"e":1.07e-7},{"s":"TeCNO5","x":-0.718,"e":2.7e-7},{"s":"TeCNO5","x":-0.692,"e":4.4e-6},{"s":"TeCNO5","x":-0.674,"e":1.1e-5},{"s":"TeCNO5","x":-0.638,"e":1.1e-5},{"s":"TeCNO5","x":-0.611,"e":5.0e-6},{"s":"TeCNO5","x":-0.588,"e":3.7e-6},{"s":"TeCNO5","x":-0.57,"e":1.26e-6},{"s":"TeCNO5","x":-0.552,"e":2.75e-6},{"s":"TeCNO5","x":-0.534,"e":3.16e-7},{"s":"TeCNO5","x":-0.512,"e":1.26e-6},{"s":"TeCNO5","x":-0.489,"e":3.16e-7},{"s":"TeCNO5","x":-0.468,"e":5.0e-7},{"s":"TeCNO5","x":-0.45,"e":2.7e-7},{"s":"TeCNO5","x":-0.414,"e":1.45e-7},{"s":"TeCNO5","x":-0.392,"e":9.3e-7},{"s":"TeCNO5","x":-0.36,"e":7.9e-7},{"s":"TeCNO5","x":-0.337,"e":1.7e-6},{"s":"TeCNO5","x":-0.312,"e":9.1e-8},{"s":"TeCNO5","x":-0.289,"e":5.0e-7},{"s":"TeCNO5","x":-0.253,"e":1.7e-6},{"s":"TeCNO5","x":-0.217,"e":7.9e-7},{"s":"TeCNO5","x":-0.172,"e":1.26e-6},{"s":"TeCNO5","x":-0.127,"e":2.75e-6},{"s":"TeCNO5","x":-0.109,"e":2.4e-6},{"s":"TeCNO5","x":-0.086,"e":2.3e-7},{"s":"TeCNO5","x":-0.065,"e":2.3e-7},{"s":"TeCNO5","x":-0.047,"e":7.9e-8},{"s":"TeCNO5","x":-0.011,"e":5.75e-8},{"s":"TeCNO5","x":0.043,"e":6.8e-8},{"s":"TeCNO5","x":0.061,"e":2.3e-7},{"s":"TeCNO5","x":0.086,"e":2.3e-7},{"s":"TeCNO5","x":0.115,"e":2.0e-6},{"s":"TeCNO5","x":0.133,"e":2.75e-6},{"s":"TeCNO5","x":0.168,"e":1.48e-6},{"s":"TeCNO5","x":0.213,"e":7.9e-7},{"s":"TeCNO5","x":0.258,"e":1.7e-6},{"s":"TeCNO5","x":0.294,"e":5.0e-7},{"s":"TeCNO5","x":0.316,"e":7.9e-8},{"s":"TeCNO5","x":0.339,"e":1.7e-6},{"s":"TeCNO5","x":0.355,"e":7.9e-7},{"s":"TeCNO5","x":0.39,"e":9.3e-7},{"s":"TeCNO5","x":0.416,"e":1.38e-7},{"s":"TeCNO5","x":0.446,"e":2.3e-7},{"s":"TeCNO5","x":0.473,"e":3.16e-7},{"s":"TeCNO5","x":0.489,"e":5.0e-7},{"s":"TeCNO5","x":0.518,"e":1.26e-6},{"s":"TeCNO5","x":0.536,"e":3.16e-7},{"s":"TeCNO5","x":0.554,"e":2.35e-6},{"s":"TeCNO5","x":0.578,"e":1.26e-6},{"s":"TeCNO5","x":0.599,"e":3.7e-6},{"s":"TeCNO5","x":0.617,"e":4.4e-6},{"s":"TeCNO5","x":0.643,"e":1.1e-5},{"s":"TeCNO5","x":0.679,"e":1.1e-5},{"s":"TeCNO5","x":0.701,"e":4.4e-6},{"s":"TeCNO5","x":0.719,"e":2.7e-7},{"s":"TeCNO5","x":0.742,"e":1.07e-7},{"s":"TeCNO5","x":0.76,"e":2.7e-9},{"s":"TeCNO5","x":0.779,"e":1e-8},{"s":"TeCNO5","x":0.796,"e":1.05e-9},{"s":"TeCNO5","x":0.823,"e":2.24e-10},{"s":"TeCNO5","x":0.841,"e":1e-10},{"s":"TeCNO5","x":0.867,"e":2.24e-11},{"s":"TeCNO5","x":0.903,"e":5.6e-12},{"s":"TeCNO5","x":0.925,"e":4.1e-13},{"s":"TeCNO5","x":0.943,"e":3.5e-13},{"s":"TeCNO5","x":0.961,"e":8.7e-15},{"s":"TeCNO5","x":0.975,"e":2.5e-14},{"s":"TeCNO5","x":1.0,"e":7.6e-15}
  ]},
  "layer": [
    {
      "mark": {"type": "line", "strokeWidth": 1, "clip": true},
      "encoding": {
        "x": {"field": "x", "type": "quantitative", "scale": {"domain": [-1, 1], "nice": false}, "axis": {"values": [-1, -0.5, 0, 0.5, 1], "format": "~g", "title": "x", "titlePadding": 8}},
        "y": {"field": "e", "type": "quantitative", "scale": {"type": "log", "domain": [1e-16, 1e-4], "nice": false}, "axis": {"values": [1e-16, 1e-12, 1e-8, 1e-4], "labelExpr": "'10' + (datum.value > 5e-6 ? '⁻⁴' : datum.value > 5e-10 ? '⁻⁸' : datum.value > 5e-14 ? '⁻¹²' : '⁻¹⁶')", "title": "Error", "titlePadding": 20}},
        "color": {"field": "s", "type": "nominal",
          "scale": {"domain": ["TeCNO2","TeCNO3","TeCNO4","TeCNO5","EFV2"], "range": ["#0072BD","#22FF22","#FF00FF","#FF0000","#77AC30"]},
          "legend": null}
      }
    },
    {
      "mark": {"type": "line", "opacity": 0},
      "encoding": {
        "x": {"field": "x", "type": "quantitative", "scale": {"domain": [-1, 1], "nice": false}, "axis": {"orient": "top", "values": [-0.5, 0, 0.5], "labels": false, "title": null}},
        "y": {"field": "e", "type": "quantitative", "scale": {"type": "log", "domain": [1e-16, 1e-4], "nice": false}, "axis": {"orient": "right", "values": [1e-12, 1e-8], "labels": false, "title": null}},
        "detail": {"field": "s"}
      }
    }
  ],
  "resolve": {"axis": {"x": "independent", "y": "independent"}}
}
]
}
